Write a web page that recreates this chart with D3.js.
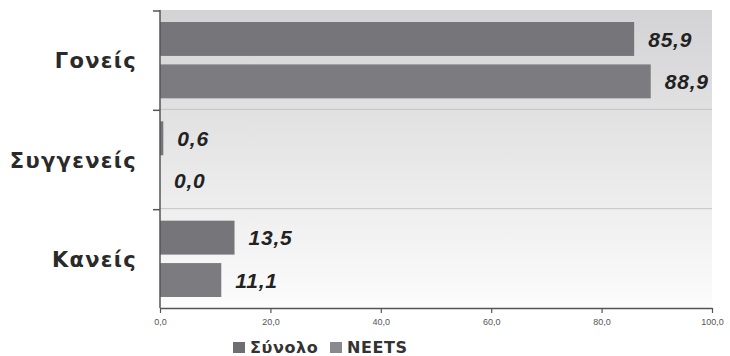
<!DOCTYPE html>
<html>
<head>
<meta charset="utf-8">
<script src="https://cdn.jsdelivr.net/npm/d3@7"></script>
<style>
  body { margin: 0; background: #fff; }
  svg { display: block; }
</style>
</head>
<body>
<div id="chart"></div>
<script>
const categories = ["Γονείς", "Συγγενείς", "Κανείς"];
const series = ["Σύνολο", "NEETS"];
const synolo = [85.9, 0.6, 13.5];
const neets = [88.9, 0.0, 11.1];
const xTicks = [0, 20, 40, 60, 80, 100];

const width = 730, height = 356;
const margin = { top: 10, right: 18, bottom: 48, left: 160 };
const innerW = width - margin.left - margin.right;
const innerH = height - margin.top - margin.bottom;

const svg = d3.select("#chart").append("svg")
  .attr("width", width)
  .attr("height", height);

const defs = svg.append("defs");
const grad = defs.append("linearGradient")
  .attr("id", "bg").attr("x1", 0).attr("y1", 0).attr("x2", 0).attr("y2", 1);
grad.append("stop").attr("offset", "0%").attr("stop-color", "#d3d3d5");
grad.append("stop").attr("offset", "100%").attr("stop-color", "#fcfcfc");

const g = svg.append("g").attr("transform", `translate(${margin.left},${margin.top})`);

const x = d3.scaleLinear().domain([0, 100]).range([0, innerW]);
const y = d3.scaleBand().domain(categories).range([0, innerH]);
const ySub = d3.scaleBand().domain(series).range([12, y.bandwidth() - 11]).paddingInner(0.2);
const color = d3.scaleOrdinal().domain(series).range(["#76767a", "#7c7c80"]);

g.append("rect")
  .attr("width", innerW).attr("height", innerH)
  .attr("fill", "url(#bg)");

// gridlines between categories
g.selectAll(".grid")
  .data(categories.slice(1))
  .join("line")
  .attr("x1", 0).attr("x2", innerW)
  .attr("y1", d => y(d)).attr("y2", d => y(d))
  .attr("stroke", "#c4c4c4").attr("stroke-width", 1);

const rows = categories.map((c, i) => ({ cat: c, values: [
  { key: series[0], v: synolo[i] },
  { key: series[1], v: neets[i] }
]}));

const grp = g.selectAll(".cat")
  .data(rows)
  .join("g")
  .attr("transform", d => `translate(0,${y(d.cat)})`);

grp.selectAll("rect")
  .data(d => d.values)
  .join("rect")
  .attr("x", 0)
  .attr("y", d => ySub(d.key))
  .attr("width", d => x(d.v))
  .attr("height", ySub.bandwidth())
  .attr("fill", d => color(d.key));

grp.selectAll("text")
  .data(d => d.values)
  .join("text")
  .attr("x", d => x(d.v) + 14)
  .attr("y", d => ySub(d.key) + ySub.bandwidth() / 2)
  .attr("dy", "0.36em")
  .attr("font-family", "Liberation Sans, Arial, sans-serif")
  .attr("font-weight", "bold")
  .attr("font-style", "italic")
  .attr("font-size", 21)
  .attr("letter-spacing", 0.8)
  .attr("fill", "#222")
  .text(d => d.v.toFixed(1).replace(".", ","));

// y axis
const yAxisG = g.append("g");
yAxisG.append("line")
  .attr("x1", 0).attr("x2", 0).attr("y1", 0).attr("y2", innerH)
  .attr("stroke", "#555").attr("stroke-width", 1.5);
yAxisG.selectAll(".ytick")
  .data(categories)
  .join("line")
  .attr("x1", -7).attr("x2", 0)
  .attr("y1", d => y(d) + 1).attr("y2", d => y(d) + 1)
  .attr("stroke", "#555").attr("stroke-width", 1.5);
yAxisG.selectAll(".ylab")
  .data(categories)
  .join("text")
  .attr("x", -23)
  .attr("y", d => y(d) + y.bandwidth() / 2 + 1)
  .attr("dy", "0.36em")
  .attr("text-anchor", "end")
  .attr("font-family", "DejaVu Sans, Verdana, sans-serif")
  .attr("font-weight", "bold")
  .attr("font-size", 21)
  .attr("letter-spacing", 1.3)
  .attr("fill", "#2a2a2a")
  .text(d => d);

// x axis
const xAxis = d3.axisBottom(x)
  .tickValues(xTicks)
  .tickSize(5)
  .tickSizeOuter(0)
  .tickPadding(6)
  .tickFormat(d => d.toFixed(1).replace(".", ","));
const xg = g.append("g")
  .attr("transform", `translate(0,${innerH})`)
  .call(xAxis);
xg.select(".domain").attr("stroke", "#555").attr("stroke-width", 1.5);
xg.selectAll(".tick line").attr("stroke", "#555").attr("stroke-width", 1.2);
xg.selectAll(".tick text")
  .attr("font-family", "Liberation Sans, Arial, sans-serif")
  .attr("font-size", 9)
  .attr("fill", "#555");

// legend
const legend = svg.append("g").attr("transform", "translate(233,353)");
const legendX = [0, 97];
const legendColors = ["#6e6e72", "#8a8a8e"];
series.forEach((s, i) => {
  const lg = legend.append("g").attr("transform", `translate(${legendX[i]},0)`);
  lg.append("rect")
    .attr("x", 0).attr("y", -11)
    .attr("width", 12).attr("height", 11)
    .attr("fill", legendColors[i]);
  lg.append("text")
    .attr("x", 17).attr("y", 0)
    .attr("font-family", "DejaVu Sans, Verdana, sans-serif")
    .attr("font-weight", "bold")
    .attr("font-size", 16)
    .attr("letter-spacing", 0.6)
    .attr("fill", "#333")
    .text(s);
});
</script>
</body>
</html>
